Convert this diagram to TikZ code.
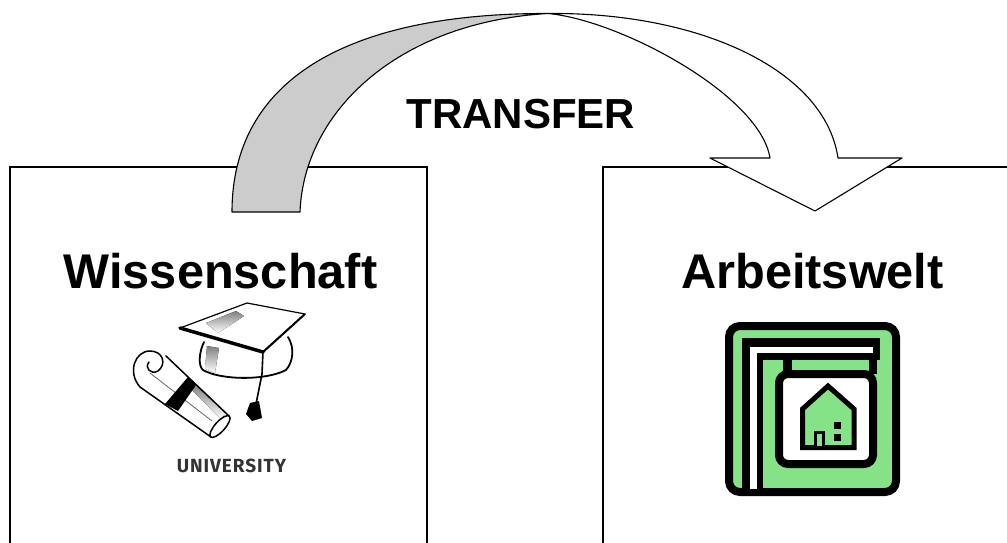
\documentclass[tikz,border=0pt]{standalone}
\usepackage{fontspec}
\setmainfont{Liberation Sans}
\newfontfamily\unifont{Fira Sans}[LetterSpace=5]
\definecolor{signgreen}{RGB}{134,226,134}
\definecolor{ribbon}{RGB}{204,204,204}
\definecolor{shade}{RGB}{205,205,205}
\begin{document}
\begin{tikzpicture}[x=1pt,y=-1pt,
  panel/.style={draw=black, line width=2.8pt, fill=none, rectangle, outer sep=0pt, inner sep=0pt, anchor=north west},
  title/.style={font=\fontsize{48.7}{50}\selectfont\bfseries, anchor=base, inner sep=0pt},
  arrowline/.style={draw=black, line width=1.1pt, line join=round},
  ink/.style={draw=black, line join=round, line cap=round}]
\useasboundingbox (0,0) rectangle (1007,542);
\clip (0,0) rectangle (1007,542);

% the two panels (they run past the lower edge)
\node[panel, minimum width=417pt, minimum height=420pt] (wiss) at (10,167) {};
\node[panel, minimum width=430pt, minimum height=420pt] (arbeit) at (603,167) {};

% twisted transfer ribbon
\coordinate (twist) at (548,13.5);
\coordinate (outerL) at (232,212);
\coordinate (innerL) at (300,212);
\coordinate (outerR) at (838,158);
\coordinate (innerR) at (770,158);
% grey back side
\filldraw[arrowline, fill=ribbon]
  (outerL) -- (innerL)
  .. controls (304,110) and (400,22) .. (twist)
  .. controls (342,13) and (232,83) .. (outerL) -- cycle;
% white front side with the arrow head
\filldraw[arrowline, fill=white]
  (twist) .. controls (700,12) and (825,70) .. (outerR)
  -- (902,158) -- (815,211) -- (710,158) -- (innerR)
  .. controls (760,95) and (620,20) .. (twist) -- cycle;

\node[font=\fontsize{42}{44}\selectfont\bfseries, anchor=base, inner sep=0pt] (transfer) at (521,128) {TRANSFER};

\node[title] (wisslabel) at (220.5,288) {Wissenschaft};
\node[title] (arbeitlabel) at (812.5,288) {Arbeitswelt};

% diploma scroll
\fill[white] (166,356) -- (229,416) -- (211,437) -- (140,387) -- cycle;
\fill[shade] (196,384) -- (226,413) -- (221,419) -- (192,390) -- cycle;
\draw[ink, line width=1.5pt] (166,356) -- (229,416);
\draw[ink, line width=1.5pt] (140,387) -- (211,437);
\draw[ink, line width=1.5pt] (220,426.5) ellipse [x radius=5, y radius=14, rotate=-42];
\draw[ink, line width=1.5pt] (140,387) .. controls (127,372) and (135,351) .. (150,351)
  .. controls (163,351) and (167,364) .. (158,371) .. controls (151,375) and (144,368) .. (149,362);
\draw[ink, line width=0.8pt, black!60] (150,373) -- (212,421);
\fill[black] (188,377) -- (196,385) -- (178,411) -- (165,404) -- cycle;

% mortarboard
\fill[white] (204,342) .. controls (199,352) and (198,366) .. (203,370)
  .. controls (220,380) and (265,381) .. (286,370) .. controls (293,362) and (295,348) .. (288,337) -- cycle;
\fill[shade] (207,346) -- (219,348) -- (215,373) -- (205,369) -- cycle;
\draw[ink, line width=1.8pt] (204,342) .. controls (199,352) and (198,366) .. (203,370)
  .. controls (220,380) and (265,381) .. (286,370) .. controls (293,362) and (295,348) .. (288,337);
\filldraw[ink, fill=white, line width=1.2pt] (180,328) -- (247,303) -- (305,314) -- (263,352) -- cycle;
\fill[shade] (206,323) -- (236,311) -- (244,316) -- (218,333) -- cycle;
\draw[ink, line width=3.5pt] (180,328) -- (263,352);
\draw[ink, line width=2pt] (263,352) -- (305,314);
\draw[ink, line width=1.6pt] (263,352) -- (262,374) -- (256,404);
\fill[black] (250,403) -- (259,401) -- (262,418) -- (252,421) -- (246,414) -- cycle;

\node[font=\unifont\bfseries\fontsize{19}{20}\selectfont, text=black!80, anchor=base, inner sep=0pt] (uni) at (231.5,472) {UNIVERSITY};

% shop sign icon
\filldraw[draw=black, fill=signgreen, line width=8pt, rounded corners=11pt] (729,326) rectangle (896,492);
\fill[black] (742,338) rectangle (880,360);
\fill[black] (742,338) rectangle (763,489);
\fill[white] (750,347) rectangle (873,353);
\fill[white] (750,347) rectangle (756.7,489);
\fill[black] (783,358) rectangle (792,374);
\fill[black] (869,358) rectangle (877,374);
\filldraw[draw=black, fill=white, line width=8pt, rounded corners=9pt] (779,374) rectangle (873,464);
\filldraw[draw=black, fill=signgreen, line width=5pt, line join=miter] (802.5,447.5) -- (802.5,409) -- (828,386) -- (854,409) -- (854,447.5) -- cycle;
\filldraw[draw=black, fill=signgreen, line width=3pt] (815,432) rectangle (823,447);
\fill[black] (834,422) rectangle (841,429);
\fill[black] (834,434) rectangle (841,441);
\end{tikzpicture}
\end{document}
